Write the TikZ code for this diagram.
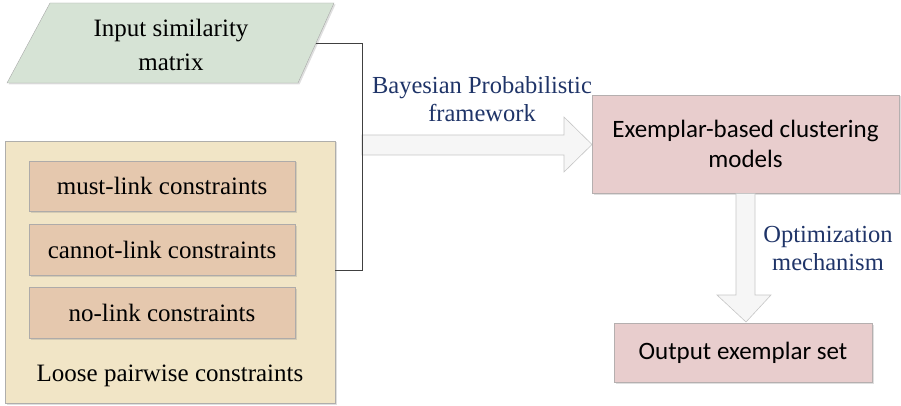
\documentclass[tikz,border=0pt]{standalone}
\usepackage{fontspec}
\setmainfont{Liberation Serif}
\newfontfamily\calib{Carlito}
\usetikzlibrary{shadows}
\definecolor{grfill}{HTML}{D6E3D5}
\definecolor{yefill}{HTML}{F1E5C6}
\definecolor{tafill}{HTML}{E5C8AE}
\definecolor{pkfill}{HTML}{E8CDCD}
\definecolor{navy}{HTML}{1F3468}
\definecolor{bord}{HTML}{A8A8A8}
\tikzset{
  shad/.style={drop shadow={opacity=0.25,shadow xshift=1.5pt,shadow yshift=-1.5pt,fill=gray}},
  serlab/.style={font=\fontsize{25}{30}\selectfont, align=center, text=black},
  navylab/.style={font=\fontsize{24.5}{28}\selectfont, align=center, text=navy},
  pinkbox/.style={draw=bord!80!pkfill, fill=pkfill, shad, font=\calib\fontsize{25}{30}\selectfont, align=center, inner sep=0pt},
  tanbox/.style={draw=bord!90!tafill, fill=tafill, shad, inner sep=0pt, font=\fontsize{25}{30}\selectfont},
  hollow/.style={draw=gray!45, fill=gray!7, line width=0.6pt},
  conn/.style={draw=black!75, line width=0.9pt}
}
\begin{document}
\begin{tikzpicture}[x=1pt,y=-1pt]
\useasboundingbox (0,0) rectangle (901,406);
% parallelogram input
\fill[gray,opacity=0.25] (51.5,4.5) -- (335.5,4.5) -- (299.5,84.5) -- (8.5,84.5) -- cycle;
\draw[draw=bord, fill=grfill] (50,3) -- (334,3) -- (298,83) -- (7,83) -- cycle;
\node[serlab, font=\fontsize{25}{34}\selectfont] (inp) at (171,45) {Input similarity\\matrix};
\coordinate (inpR) at (316,43);
% loose constraints container
\node[draw=bord!90!yefill, fill=yefill, shad, minimum width=330pt, minimum height=262pt, inner sep=0pt] (loose) at (170,272) {};
\node[tanbox, minimum width=266pt, minimum height=50pt] (must) at (162,186) {must-link constraints};
\node[tanbox, minimum width=266pt, minimum height=51pt] (cannot) at (162,249.5) {cannot-link constraints};
\node[tanbox, minimum width=266pt, minimum height=51pt] (nolink) at (162,312.5) {no-link constraints};
\node[serlab] (loosel) at (170,376) {Loose pairwise constraints};
% big right hollow arrow
\draw[hollow] (362,135) -- (564,135) -- (564,117) -- (592,144.5) -- (564,172) -- (564,155) -- (362,155) -- cycle;
% connector bracket
\coordinate (vx) at (362,43);
\draw[conn] (inpR) -- (vx) |- (loose.east |- 0,270);
% pink boxes
\node[pinkbox, minimum width=307pt, minimum height=98pt] (exem) at (745.5,144) {Exemplar-based clustering\\models};
\node[pinkbox, minimum width=258pt, minimum height=59pt] (outp) at (743,352.5) {Output exemplar set};
% down hollow arrow
\draw[hollow] (736,193.5) -- (755,193.5) -- (755,295) -- (771,295) -- (746,322) -- (717,295) -- (736,295) -- cycle;
% labels
\node[navylab] (bayes) at (482,99) {Bayesian Probabilistic\\framework};
\node[navylab] (optim) at (828,249) {Optimization\\mechanism};
\end{tikzpicture}
\end{document}
